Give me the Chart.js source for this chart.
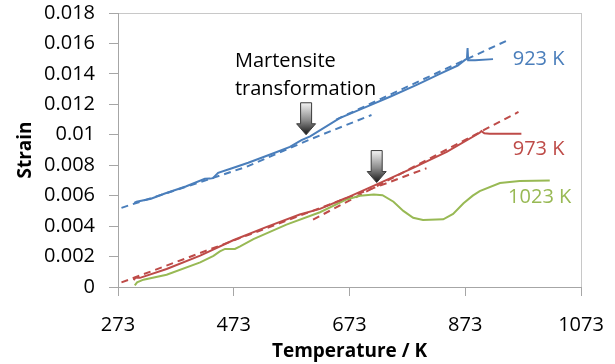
<!DOCTYPE html>
<html><head><meta charset="utf-8">
<script src="https://cdn.jsdelivr.net/npm/chart.js@4.4.1/dist/chart.umd.min.js"></script>
<style>html,body{margin:0;padding:0;background:#fff}canvas{display:block}</style>
</head><body>
<canvas id="c" width="615" height="364"></canvas>
<script>
// Axis ticks
const xTicks = [273, 473, 673, 873, 1073];
const yTicks = [0, 0.002, 0.004, 0.006, 0.008, 0.01, 0.012, 0.014, 0.016, 0.018];

// 923 K measured
const t923 = [301, 305, 330, 354, 390, 423, 432, 437, 446, 470, 498, 544, 570, 590, 605, 656, 700, 743, 790, 829, 860, 872, 876, 877, 878, 890, 921];
const s923 = [0.00553, 0.0056, 0.0058, 0.00614, 0.0066, 0.00711, 0.00712, 0.00715, 0.0075, 0.0078, 0.00816, 0.00882, 0.0092, 0.00965, 0.0099, 0.0111, 0.0118, 0.0125, 0.0133, 0.0140, 0.01455, 0.0149, 0.0150, 0.0157, 0.0149, 0.0149, 0.01497];
// 923 K fit lines
const t923fitLow = [279, 440, 495, 605, 711];
const s923fitLow = [0.0052, 0.0072, 0.0079, 0.0097, 0.0113];
const t923fitHigh = [650, 944];
const s923fitHigh = [0.0110, 0.01617];

// 973 K measured
const t973 = [300, 303, 311, 357, 415, 472, 530, 587, 622, 668, 726, 783, 841, 898, 901, 906, 915, 970];
const s973 = [0.00045, 0.0006, 0.0006, 0.00118, 0.00206, 0.00307, 0.00395, 0.00476, 0.00513, 0.00586, 0.00684, 0.00783, 0.00888, 0.01013, 0.01024, 0.0101, 0.01007, 0.01007];
// 973 K fit lines
const t973fitLow = [279, 806];
const s973fitLow = [0.0003, 0.0078];
const t973fitHigh = [610, 965];
const s973fitHigh = [0.00443, 0.0115];

// 1023 K measured
const t1023 = [302, 306, 317, 357, 415, 438, 449, 458, 475, 484, 507, 564, 622, 668, 691, 715, 730, 749, 766, 783, 800, 835, 852, 870, 886, 898, 933, 967, 1019];
const s1023 = [0.0001, 0.0003, 0.00048, 0.00081, 0.00162, 0.00205, 0.00234, 0.0025, 0.0025, 0.00267, 0.00315, 0.0041, 0.00491, 0.00575, 0.006, 0.00607, 0.00603, 0.0056, 0.005, 0.00455, 0.0044, 0.00445, 0.0048, 0.0055, 0.006, 0.0063, 0.00683, 0.00697, 0.007];

const seriesNames = ['923 K', '973 K', '1023 K'];
const colors = ['#4a7ebb', '#be4b48', '#98b954'];

// annotation placement (data coordinates)
const nameAnchors = [{t: 955, s: 0.01496}, {t: 955, s: 0.00904}, {t: 947, s: 0.00588}];
const noteLines = ['Martensite', 'transformation'];
const noteAnchors = [{t: 475, s: 0.01482}, {t: 475, s: 0.01298}];
const arrowTips = [{t: 598, s: 0.0100}, {t: 720, s: 0.00686}];

const pts = (ts, ss) => ts.map((t, i) => ({x: t, y: ss[i]}));
const solid = (ts, ss, c) => ({data: pts(ts, ss), borderColor: c, borderWidth: 2, showLine: true, pointRadius: 0, tension: 0, fill: false, order: 0});
const dashed = (ts, ss, c) => ({data: pts(ts, ss), borderColor: c, borderWidth: 2, borderDash: [7, 5], showLine: true, pointRadius: 0, tension: 0, fill: false, order: 1});

Chart.defaults.font.family = "'Open Sans', sans-serif";
Chart.defaults.color = '#000';

const decor = {
  id: 'decor',
  beforeDraw(chart) {
    const {ctx, chartArea: a} = chart;
    ctx.save();
    ctx.strokeStyle = '#c8c8c8';
    ctx.lineWidth = 1;
    ctx.strokeRect(Math.round(a.left) + 0.5, Math.round(a.top) + 0.5, Math.round(a.right - a.left), Math.round(a.bottom - a.top));
    ctx.restore();
  },
  afterDatasetsDraw(chart) {
    const {ctx, scales: {x, y}} = chart;
    ctx.save();
    ctx.font = "20px 'Open Sans', sans-serif";
    ctx.textBaseline = 'middle';
    ctx.textAlign = 'left';
    seriesNames.forEach((n, i) => {
      ctx.fillStyle = colors[i];
      ctx.fillText(n, x.getPixelForValue(nameAnchors[i].t), y.getPixelForValue(nameAnchors[i].s));
    });
    ctx.fillStyle = '#000';
    noteLines.forEach((n, i) => {
      ctx.fillText(n, x.getPixelForValue(noteAnchors[i].t), y.getPixelForValue(noteAnchors[i].s));
    });
    arrowTips.forEach(p => {
      const cx = x.getPixelForValue(p.t), ty = y.getPixelForValue(p.s);
      const h = 32, sw = 5.5, hw = 9.5, hh = 11;
      const top = ty - h;
      const g = ctx.createLinearGradient(0, top, 0, ty);
      g.addColorStop(0, '#f4f4f4');
      g.addColorStop(0.55, '#8a8a8a');
      g.addColorStop(1, '#151515');
      ctx.beginPath();
      ctx.moveTo(cx - sw, top);
      ctx.lineTo(cx + sw, top);
      ctx.lineTo(cx + sw, ty - hh);
      ctx.lineTo(cx + hw, ty - hh);
      ctx.lineTo(cx, ty);
      ctx.lineTo(cx - hw, ty - hh);
      ctx.lineTo(cx - sw, ty - hh);
      ctx.closePath();
      ctx.fillStyle = g;
      ctx.fill();
      ctx.strokeStyle = '#3a3a3a';
      ctx.lineWidth = 1;
      ctx.stroke();
    });
    ctx.restore();
  }
};

new Chart(document.getElementById('c'), {
  type: 'scatter',
  data: {
    datasets: [
      solid(t923, s923, colors[0]),
      dashed(t923fitLow, s923fitLow, colors[0]),
      dashed(t923fitHigh, s923fitHigh, colors[0]),
      solid(t973, s973, colors[1]),
      dashed(t973fitLow, s973fitLow, colors[1]),
      dashed(t973fitHigh, s973fitHigh, colors[1]),
      solid(t1023, s1023, colors[2])
    ]
  },
  options: {
    responsive: false,
    animation: false,
    devicePixelRatio: 1,
    layout: {padding: {left: 0, right: 34, top: 13, bottom: 0}},
    plugins: {legend: {display: false}, tooltip: {enabled: false}},
    scales: {
      x: {
        type: 'linear', min: 273, max: 1073,
        afterBuildTicks: s => { s.ticks = xTicks.map(v => ({value: v})); },
        afterFit: s => { s.height = 77; s.paddingLeft = 0; s.paddingRight = 0; },
        ticks: {font: {size: 20}, padding: 17, maxRotation: 0, autoSkip: false, color: '#000', callback: v => String(v)},
        grid: {drawOnChartArea: false, drawTicks: true, tickLength: 9, color: '#a6a6a6'},
        border: {color: '#a6a6a6'},
        title: {display: true, text: 'Temperature / K', font: {size: 19, weight: 'bold'}, color: '#000', padding: {top: 0, bottom: 1}}
      },
      y: {
        type: 'linear', min: 0, max: 0.018,
        afterBuildTicks: s => { s.ticks = yTicks.map(v => ({value: v})); },
        afterFit: s => { s.width = 118; s.paddingTop = 0; s.paddingBottom = 0; },
        ticks: {font: {size: 20}, padding: 14, color: '#000', callback: v => String(Number(v.toFixed(3)))},
        grid: {drawOnChartArea: false, drawTicks: true, tickLength: 9, color: '#a6a6a6'},
        border: {color: '#a6a6a6'},
        title: {display: true, text: 'Strain', font: {size: 19, weight: 'bold'}, color: '#000', padding: {top: 14, bottom: 0}}
      }
    }
  },
  plugins: [decor]
});
</script>
</body></html>
